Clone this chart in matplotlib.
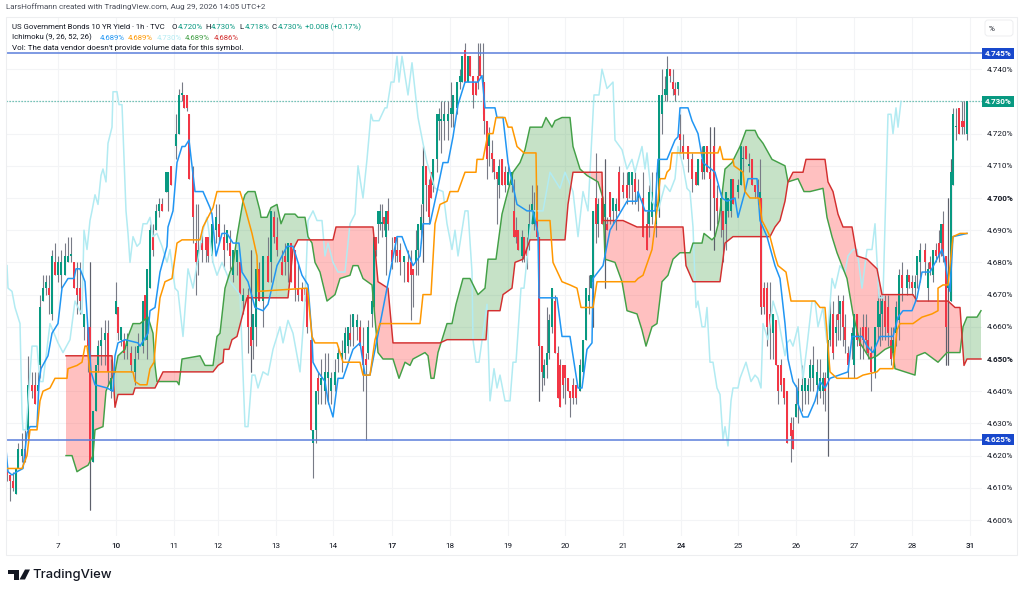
#!/usr/bin/env python3
"""US 10Y yield, 1h candles with Ichimoku, TradingView style."""
import numpy as np
import matplotlib
matplotlib.use("Agg")
import matplotlib.pyplot as plt
from matplotlib.patches import Rectangle, Polygon, FancyBboxPatch

W, H = 1024, 594
plt.rcParams['font.family'] = ['Roboto', 'DejaVu Sans']

# time axis is session position, tick list below gives the day labels
day_pos = [58, 116, 174, 218, 276, 333, 392, 450, 508, 565, 623, 681, 738, 796, 854, 912, 970]
day_labels = ['7', '10', '11', '12', '13', '14', '17', '18', '19', '20', '21', '24', '25', '26', '27', '28', '31']
bold_days = ['10', '17', '24', '31']
price_ticks = [4.60, 4.61, 4.62, 4.63, 4.64, 4.65, 4.66, 4.67, 4.68, 4.69, 4.70, 4.71, 4.72, 4.73, 4.74]

# all yields below in thousandths above 4%, so 622 is 4.622%
# candles: time, open, high, low, close
candles_wk1 = [(7,616,616,612,614),(10,614,614,606,612),(13,612,615,609,610),(16,608,616,608,616),(18,616,624,616,622),
 (22,620,627,618,622),(25,622,628,618,620),(28,628,651,624,642),(32,642,646,638,640),(35,642,646,636,636),
 (38,640,646,638,642),(40,648,670,644,666),(43,668,676,668,672),(46,672,676,670,674),(49,672,676,664,670),
 (52,664,684,662,682),(55,680,686,676,676),(58,676,682,674,680),(61,676,684,672,680),(65,676,686,676,682),
 (68,680,688,680,682),(71,682,688,680,682),(74,680,680,672,672),(77,672,680,664,670),(80,672,680,664,668),
 (84,660,664,656,664),(88,660,660,646,654),(90,660,680,603,618),(93,618,634,618,634),(96,634,648,634,648),
 (98,648,656,646,654),(101,654,660,648,656),(105,656,662,648,658),(108,658,662,642,646),(111,640,650,638,644),
 (116,664,674,664,668),(118,666,666,656,658),(121,656,660,654,660),(124,656,658,650,652),(127,654,658,650,656),
 (131,652,654,646,648),(135,646,654,642,650),(138,652,658,650,654),(143,654,668,652,668),(145,670,670,656,662),
 (147,656,678,650,678),(150,672,692,672,690),(153,688,692,682,684),(156,690,698,690,696),(159,696,700,694,698),
 (162,698,700,696,696),(166,702,708,702,708),(168,702,708,696,708),(171,710,710,704,704),(176,716,726,712,720),
 (179,720,734,720,732),(182,732,736,730,732),(184,732,732,728,728),(187,732,732,727,728),(189,726,726,706,706),
 (193,708,710,686,694)]
candles_wk2 = [(196,686,698,670,680),(198,680,698,676,684),(202,686,690,680,684),(206,688,688,680,684),(208,688,688,680,682),
 (212,682,692,680,692),(216,690,698,686,694),(219,692,698,686,688),(224,688,692,678,684),(227,686,690,684,690),
 (230,686,690,678,682),(233,676,684,674,684),(237,680,684,676,684),(240,680,680,670,670),(243,668,672,664,670),
 (248,670,672,652,660),(251,660,684,646,654),(253,656,664,650,664),(256,660,678,654,678),(259,678,680,668,668),
 (263,668,682,660,682),(268,682,688,674,674),(271,680,696,674,696),(274,694,696,686,688),(277,688,694,682,684),
 (282,680,684,676,676),(285,682,686,676,680),(288,680,686,674,686),(291,686,686,674,674),(295,684,684,668,672),
 (298,672,680,668,670),(302,672,674,668,668),(305,672,676,668,670),(307,672,672,658,660),(311,656,656,628,628),
 (313,624,628,613,628),(316,628,640,624,640),(318,644,646,636,640),(321,642,650,636,644),(325,640,652,636,646),
 (328,644,652,636,646),(331,640,646,636,644),(335,642,650,640,646)]
candles_wk3 = [(338,650,654,646,652),(342,650,656,646,652),(345,652,660,650,658),(348,654,660,652,660),(350,658,664,654,656),
 (353,660,664,654,664),(357,660,664,656,662),(360,660,662,654,654),(363,654,660,640,648),(366,650,652,625,648),
 (368,652,662,650,660),(372,664,672,660,668),(374,666,688,664,688),(376,688,688,682,684),(378,692,696,686,696),
 (380,692,698,690,696),(382,692,698,688,692),(384,694,694,690,692),(386,688,696,676,696),(388,696,700,690,692),
 (392,684,688,678,680),(395,688,688,680,686),(397,684,688,680,682),(400,684,686,676,680),(404,680,682,674,682),
 (408,680,684,674,674),(411,680,684,662,676),(413,678,678,666,676),(416,680,690,676,684),(418,684,692,676,692),
 (421,690,698,686,694),(423,698,716,680,710),(426,710,710,696,704),(429,704,706,692,694),(431,708,708,700,700),
 (433,704,712,702,712),(437,712,726,708,726),(439,724,728,718,726),(441,724,730,714,724),(444,724,730,718,726),
 (448,724,730,718,726),(451,726,736,722,728),(453,726,732,722,732),(457,728,736,726,736),(460,736,740,734,738),
 (462,736,744,736,744),(465,746,748,736,736),(468,736,744,736,744),(470,744,744,738,738),(473,738,738,728,732),
 (476,736,736,732,732),(478,738,748,734,736),(480,744,748,738,738),(483,736,748,726,736),(484,736,736,720,724),
 (487,724,724,706,712),(489,716,722,710,720),(492,714,718,708,712),(494,712,712,706,708),(497,708,708,692,706),
 (499,704,712,700,710),(502,712,712,704,704),(505,708,710,702,704),(508,704,710,704,708),(512,704,708,702,708)]
candles_wk4 = [(514,696,706,688,688),(516,690,694,686,688),(518,690,690,684,684),(522,682,690,680,688),(524,688,688,680,682),
 (527,684,688,678,682),(529,686,698,684,692),(532,692,704,692,698),(534,692,702,690,696),(537,696,704,688,688),
 (539,688,688,637,654),(542,654,654,640,646),(544,644,650,642,648),(547,648,666,644,652),(549,652,664,650,662),
 (552,660,672,658,672),(555,668,670,652,652),(558,652,654,638,638),(560,648,650,635,635),(563,648,648,638,642),
 (565,648,648,636,644),(568,644,644,640,640),(570,640,640,632,638),(573,642,644,636,638),(576,642,642,636,638),
 (580,640,650,640,648),(583,646,656,644,656),(586,656,672,656,672),(589,668,676,664,670),(591,672,676,672,676),
 (593,674,696,660,696),(596,700,714,686,692),(598,692,700,688,698),(602,700,704,692,692),(605,694,712,672,698),
 (607,692,694,690,690),(610,702,702,692,694),(613,696,700,692,700),(616,696,700,690,698),(619,708,710,696,696),
 (623,704,708,700,702),(627,704,708,698,700),(629,704,708,700,708),(632,704,708,698,708),(635,706,708,698,702),
 (638,700,706,696,702),(643,700,708,688,688),(647,692,696,684,684),(649,692,704,688,702),(652,694,708,692,702),
 (656,692,708,688,698),(659,696,732,694,732)]
candles_wk5 = [(662,726,740,720,732),(665,732,738,730,734),(667,732,744,730,740),(670,740,740,736,738),(673,736,740,732,734),
 (675,734,736,730,732),(678,734,736,732,736),(680,720,726,714,718),(683,716,720,712,714),(688,716,716,708,712),
 (692,712,714,702,706),(696,708,708,704,704),(698,704,712,704,712),(702,712,716,706,708),(704,708,716,706,716),
 (707,716,716,708,708),(710,708,722,690,706),(714,716,722,684,700),(717,700,704,692,696),(721,696,702,688,700),
 (723,696,696,680,690),(726,692,702,684,702),(728,696,700,694,700),(731,696,706,694,706),(733,706,706,698,698),
 (738,702,706,700,704),(741,704,716,704,716),(743,712,716,708,712),(746,716,716,712,712),(749,710,714,708,710),
 (752,712,712,704,704),(755,704,704,700,702),(758,704,706,698,700),(760,700,712,692,702),(761,700,700,664,666),
 (764,672,674,664,666),(767,672,674,654,660),(770,664,674,650,660),(773,658,664,650,664),(776,662,662,648,648),
 (778,648,648,636,640),(781,648,650,640,642),(784,644,644,636,638),(787,640,640,624,624),(791,630,632,618,626),
 (793,628,632,622,622),(796,632,642,632,636),(798,636,644,630,640),(802,640,648,634,642),(805,640,644,636,644),
 (808,640,644,636,642),(810,644,650,640,648),(813,644,654,640,648),(817,642,650,636,646),(820,640,650,638,644),
 (823,640,646,636,644),(825,644,646,634,640),(828,644,656,620,656),(830,656,668,654,664),(833,664,668,650,652)]
candles_wk6 = [(836,658,664,654,660),(838,664,670,656,662),(840,664,668,656,668),(843,668,670,654,660),(845,660,664,652,656),
 (848,652,654,644,648),(852,656,660,650,658),(854,648,664,644,664),(857,664,664,654,656),(860,656,660,650,654),
 (863,660,664,650,656),(866,660,664,652,656),(868,656,660,650,652),(871,652,654,640,646),(875,646,660,644,660),
 (878,660,672,656,668),(880,660,670,654,664),(882,664,670,656,668),(885,668,670,656,660),(888,666,670,654,658),
 (891,656,660,648,650),(893,652,660,650,656),(896,658,668,654,666),(899,662,678,656,676),(902,676,680,668,672),
 (907,672,678,670,676),(909,676,676,672,674),(912,674,676,670,672),(915,672,676,668,674),(917,676,682,672,682),
 (920,680,686,674,684),(925,684,686,676,680),(928,672,680,668,678),(930,680,682,676,678),(933,676,684,674,684),
 (936,684,686,680,682),(939,686,690,680,682),(941,686,692,682,692),(943,692,696,680,682),(946,682,682,648,660),
 (948,672,700,648,676),(951,668,712,668,708),(953,704,728,704,726),(956,722,728,718,722),(959,728,728,720,720),
 (962,724,730,720,722),(964,724,730,720,722),(967,720,730,718,730)]

conversion_line = [(6,622),(8,615),(12,614),(17,615),(23,616),(27,627),(30,629),(37,629),(39,643),(41,647),(48,651),(52,658),
 (58,661),(62,672),(68,675),(74,675),(76,678),(80,678),(85,674),(88,659),(91,646),(95,642),(107,641),(113,640),(115,651),
 (118,655),(125,656),(138,655),(140,654),(148,658),(150,665),(155,666),(160,677),(167,685),(168,691),(173,696),(177,711),
 (182,716),(185,716),(189,718),(195,702),(203,702),(210,697),(212,695),(216,682),(222,689),(227,689),(233,686),(239,686),
 (242,677),(248,674),(255,666),(263,665),(268,667),(277,679),(287,685),(293,685),(297,681),(302,676),(308,673),(312,657),
 (313,649),(318,646),(325,643),(328,637),(333,632),(338,644),(343,644),(353,653),(360,655),(365,645),(370,645),(377,656),
 (392,680),(397,688),(402,688),(408,683),(413,679),(420,682),(423,692),(430,692),(437,702),(443,711),(448,711),(453,719),
 (458,729),(465,736),(478,736),(482,738),(485,728),(495,728),(497,725),(503,725),(508,711),(517,698),(527,696),(533,696),
 (538,689),(539,669),(557,669),(562,657),(570,657),(578,641),(582,641),(587,653),(592,655),(593,675),(603,679),(610,690),
 (627,699),(637,699),(638,702),(645,696),(655,696),(658,712),(667,712),(675,718),(678,719),(680,728),(688,728),(692,724),
 (698,720),(703,711),(715,708),(722,700),(727,699),(735,700),(738,694),(745,702),(748,706),(757,706),(760,693),(767,688),
 (775,679),(780,675),(785,661),(788,650),(793,643),(797,641),(798,636),(803,632),(808,632),(815,637),(820,643),(825,641),
 (830,644),(848,646),(852,657),(862,657),(867,654),(873,652),(880,657),(893,657),(898,663),(903,665),(912,665),(917,669),
 (922,677),(930,677),(937,681),(942,684),(945,680),(950,671),(953,688),(967,689)]
base_line = [(7,616),(22,616),(27,620),(30,628),(37,628),(40,637),(43,640),(50,641),(55,644),(67,644),(68,647),(77,648),(82,649),
 (85,654),(87,654),(90,646),(133,646),(135,643),(140,642),(147,642),(150,647),(154,649),(157,660),(160,669),(165,674),(172,675),
 (177,686),(182,687),(200,687),(203,691),(208,694),(213,697),(217,702),(240,702),(245,697),(252,689),(257,682),(258,671),
 (307,672),(308,670),(312,657),(315,655),(337,655),(343,649),(360,649),(363,645),(370,645),(375,656),(380,661),(420,661),
 (423,670),(431,670),(435,692),(440,698),(447,699),(450,702),(458,702),(465,708),(476,708),(477,712),(483,712),(488,720),
 (493,720),(496,725),(505,725),(508,722),(512,722),(517,716),(524,714),(536,714),(537,693),(550,693),(553,680),(562,674),
 (570,673),(577,672),(581,666),(593,666),(597,674),(635,674),(638,675),(643,676),(652,684),(658,699),(660,706),(665,706),
 (667,708),(670,709),(672,714),(718,714),(720,716),(723,712),(733,712),(734,710),(743,708),(745,702),(750,700),(759,700),
 (762,693),(767,690),(770,688),(775,682),(778,679),(786,677),(791,668),(815,668),(820,666),(825,666),(830,646),(837,644),
 (857,644),(863,645),(877,646),(880,647),(893,647),(897,659),(900,661),(913,661),(922,663),(932,664),(938,665),(938,672),
 (943,673),(948,673),(953,688),(960,689),(967,689)]
lagging_span = [(7,679),(8,672),(12,671),(15,666),(20,661),(22,633),(23,628),(26,628),(32,654),(37,654),(40,643),(43,643),(50,661),
 (58,655),(63,652),(70,656),(75,668),(78,666),(82,664),(84,690),(87,684),(90,693),(92,696),(95,701),(98,698),(101,707),
 (103,709),(106,705),(108,717),(112,722),(113,733),(117,733),(119,729),(122,729),(126,696),(128,689),(130,680),(133,688),
 (137,685),(140,686),(143,692),(147,692),(150,694),(153,688),(157,689),(162,685),(167,680),(170,684),(175,672),(178,671),
 (183,657),(188,678),(193,672),(203,690),(207,694),(213,680),(217,676),(222,680),(230,674),(240,670),(245,629),(248,629),
 (252,645),(255,645),(258,641),(263,646),(268,645),(273,653),(280,660),(283,655),(288,662),(293,658),(300,646),(305,668),
 (308,693),(313,696),(317,693),(322,693),(325,682),(328,686),(333,680),(338,677),(345,677),(350,692),(355,695),(358,710),
 (363,700),(367,712),(371,726),(373,724),(379,724),(385,728),(387,728),(391,736),(394,736),(397,744),(399,736),(402,744),
 (408,732),(412,742),(418,725),(423,717),(427,711),(435,703),(443,702),(447,692),(452,684),(455,690),(458,682),(465,696),
 (468,696),(472,677),(473,656),(476,649),(479,649),(487,667),(490,637),(494,647),(497,641),(500,645),(505,637),(510,637),
 (513,649),(516,649),(521,672),(524,672),(527,681),(532,696),(543,696),(550,708),(560,703),(565,708),(573,702),(578,688),
 (583,702),(588,696),(594,732),(599,732),(602,740),(607,734),(613,736),(615,718),(622,715),(627,709),(632,712),(635,708),
 (642,716),(645,709),(647,714),(652,699),(658,696),(665,704),(670,702),(675,706),(678,716),(683,710),(687,703),(690,702),
 (693,691),(696,666),(698,668),(702,660),(705,660),(707,666),(710,649),(713,649),(717,641),(720,639),(723,625),(725,629),
 (728,623),(731,637),(733,641),(738,641),(740,644),(746,649),(751,643),(755,645),(758,644),(761,641),(763,661),(768,656),
 (773,668),(778,663),(782,656),(785,651),(787,655),(790,656),(793,654),(798,660),(803,644),(807,654),(812,668),(815,668),
 (818,660),(823,666),(827,655),(832,675),(835,672),(840,679),(845,677),(848,682),(853,684),(857,684),(862,672),(867,684),
 (872,684),(875,692),(879,669),(883,669),(887,715),(888,726),(891,726),(893,720),(896,728),(898,722),(901,730)]
lead_a = [(66,620),(72,620),(77,615),(82,616),(88,617),(93,620),(95,628),(103,629),(106,640),(110,643),(115,646),(118,651),(125,653),
 (128,657),(133,661),(140,661),(148,663),(153,658),(155,648),(157,643),(177,643),(179,642),(182,650),(200,651),(205,648),
 (213,648),(217,657),(220,658),(225,672),(230,677),(233,679),(237,688),(243,699),(245,701),(248,702),(255,702),(260,696),
 (261,694),(267,694),(271,697),(277,698),(281,692),(285,695),(295,695),(298,694),(305,694),(308,688),(312,686),(315,680),
 (320,677),(327,668),(335,670),(340,675),(350,676),(353,679),(358,679),(363,675),(372,673),(378,652),(383,650),(393,650),
 (399,644),(405,649),(410,648),(413,650),(425,652),(428,651),(431,644),(434,644),(438,652),(447,661),(452,661),(456,667),
 (463,675),(470,675),(478,670),(485,672),(488,681),(496,681),(502,695),(507,701),(513,708),(520,711),(525,715),(530,722),
 (542,722),(546,725),(552,722),(555,724),(562,725),(566,725),(570,725),(573,716),(580,709),(587,707),(598,705),(603,700),
 (605,681),(615,680),(622,674),(627,665),(637,664),(642,659),(646,654),(652,660),(657,661),(662,674),(668,676),(673,681),
 (680,683),(690,683),(693,686),(702,686),(704,689),(712,687),(715,688),(719,693),(725,709),(732,711),(740,716),(746,721),
 (755,721),(758,719),(763,717),(772,712),(785,710),(788,705),(798,706),(804,702),(810,702),(823,703),(827,694),(832,688),
 (837,683),(842,679),(847,675),(853,664),(860,655),(870,650),(877,651),(885,653),(892,654),(895,647),(915,645),(917,651),
 (925,652),(938,649),(947,652),(960,652),(963,660),(967,663),(977,663),(981,665)]
lead_b = [(66,651),(112,651),(115,635),(118,639),(133,639),(135,641),(155,641),(163,646),(213,646),(218,648),(223,649),(224,653),
 (229,653),(232,656),(237,657),(242,663),(247,669),(288,669),(293,684),(298,687),(333,687),(336,691),(373,691),(378,674),
 (388,672),(393,655),(440,655),(447,656),(486,656),(488,665),(500,665),(503,670),(512,672),(515,680),(523,681),(530,687),
 (565,687),(568,698),(573,708),(602,708),(603,693),(623,693),(630,692),(637,691),(683,691),(686,679),(693,674),(720,674),
 (723,681),(725,686),(733,688),(770,688),(775,691),(780,693),(785,699),(788,705),(793,708),(803,708),(806,712),(825,712),
 (828,705),(833,702),(838,695),(843,691),(852,691),(857,682),(867,681),(877,678),(882,670),(913,670),(917,668),(948,668),
 (955,666),(960,666),(964,648),(967,650),(981,650)]

# horizontal levels and last price
level_high, level_low, last_price = 4.745, 4.625, 4.730

UP, DOWN, WICK = '#089981', '#F23645', '#787B86'
BLUE, ORANGE, CYAN, GREEN, RED = '#2196F3', '#FF9800', '#B2EBF2', '#43A047', '#D32F2F'
LEVEL, TAG, EDGE = '#5B7EDB', '#1848CC', '#EDEEF0'
FONT = 5.9


def px_x(x):
    return x / W


def px_y(y):
    return 1 - y / H


def split_line(points):
    xs, ys = zip(*points)
    return np.array(xs, float), 4 + np.array(ys, float) / 1000


def fig_box(x0, y0, x1, y1, **kw):
    # box in reference pixels, y0 is the top edge
    fig.patches.append(Rectangle((px_x(x0), px_y(y1)), (x1 - x0) / W, (y1 - y0) / H,
                                 transform=fig.transFigure, **kw))


fig = plt.figure(figsize=(W / 100, H / 100), dpi=100, facecolor='white')
left, right, top, bottom = 6, 982, 17, 536
ax = fig.add_axes([px_x(left), px_y(bottom), (right - left) / W, (bottom - top) / H])
ax.set_xlim(left, right)
ax.set_ylim(4.7 - (bottom - 198) / 3220, 4.7 + (198 - top) / 3220)
ax.set_xticks(day_pos)
ax.set_xticklabels(day_labels, fontsize=FONT, color='#131722')
for lab in ax.get_xticklabels():
    if lab.get_text() in bold_days:
        lab.set_fontweight('medium')
ax.yaxis.tick_right()
ax.set_yticks(price_ticks)
# the 4.730 label sits under the last price tag
ax.set_yticklabels(['' if abs(p - last_price) < 1e-6 else f'{p:.3f}%' for p in price_ticks],
                   fontsize=FONT, color='#131722')
for lab, p in zip(ax.get_yticklabels(), price_ticks):
    if abs(p - 4.65) < 1e-6 or abs(p - 4.70) < 1e-6:
        lab.set_fontweight('bold')
ax.tick_params(axis='x', length=0, pad=5)
ax.tick_params(axis='y', length=0, pad=3.6)
ax.grid(True, color='#F3F4F6', lw=0.8)
ax.set_axisbelow(True)
for s in ax.spines.values():
    s.set_visible(False)

# cloud
ax_x, ax_y = split_line(lead_a)
bx_x, bx_y = split_line(lead_b)
grid_x = np.union1d(ax_x, bx_x)
a_on_grid = np.interp(grid_x, ax_x, ax_y)
b_on_grid = np.interp(grid_x, bx_x, bx_y)
ax.fill_between(grid_x, a_on_grid, b_on_grid, where=a_on_grid >= b_on_grid, interpolate=True,
                color=GREEN, alpha=0.3, lw=0, zorder=1)
ax.fill_between(grid_x, a_on_grid, b_on_grid, where=a_on_grid < b_on_grid, interpolate=True,
                color='#FF5252', alpha=0.36, lw=0, zorder=1)

# candles
rows = np.array(candles_wk1 + candles_wk2 + candles_wk3 + candles_wk4 + candles_wk5 + candles_wk6, float)
t = rows[:, 0]
o, hi, lo, c = [4 + rows[:, i] / 1000 for i in (1, 2, 3, 4)]
ax.vlines(t, lo, hi, color=WICK, lw=0.8, zorder=2)
long_wick = (hi - lo) > 0.03
ax.vlines(t[long_wick], lo[long_wick], hi[long_wick], color='#5D606B', lw=0.8, zorder=2)
colors = [UP if close >= opn else DOWN for opn, close in zip(o, c)]
ax.bar(t, np.maximum(np.abs(c - o), 0.0005), bottom=np.minimum(o, c), width=1.9, color=colors, lw=0, zorder=2.5)

# ichimoku lines
for pts, col, lw in [(lagging_span, CYAN, 1.1), (lead_a, GREEN, 1.05), (lead_b, RED, 1.05),
                     (conversion_line, BLUE, 1.1), (base_line, ORANGE, 1.1)]:
    xs, ys = split_line(pts)
    ax.plot(xs, ys, color=col, lw=lw, zorder=3, solid_joinstyle='round')

# levels
ax.axhline(level_high, color=LEVEL, lw=1.1, zorder=4)
ax.axhline(level_low, color=LEVEL, lw=1.1, zorder=4)
ax.axhline(last_price, color=UP, lw=0.9, ls=(0, (1, 1.4)), alpha=0.7, zorder=1.5)

# price tags
for val, col in [(level_high, TAG), (last_price, UP), (level_low, TAG)]:
    yy = 198 - (val - 4.7) * 3220
    fig_box(982, yy - 5.5, 1014, yy + 5.5, facecolor=col, edgecolor='none')
    fig.text(px_x(998), px_y(yy + 0.2), f'{val:.3f}%', color='white', fontsize=FONT, fontweight='bold',
             ha='center', va='center')

# outer frame and percent button
fig_box(6, 17, 1017, 555, facecolor='none', edgecolor=EDGE, lw=0.8)
fig.patches.append(FancyBboxPatch((px_x(985), px_y(36)), 28 / W, 16 / H, boxstyle='round,pad=0,rounding_size=0.003',
                                  transform=fig.transFigure, facecolor='white', edgecolor=EDGE, lw=0.7,
                                  mutation_aspect=W / H))
fig.text(px_x(992), px_y(29), '%', fontsize=FONT, color='#131722', ha='center', va='center')


def label(x, y, s, col='#131722', size=FONT, **kw):
    fig.text(px_x(x), px_y(y), s, color=col, fontsize=size, va='center', ha='left', **kw)


label(6, 7, 'LarsHoffmann created with TradingView.com, Aug 29, 2026 14:05 UTC+2', '#4A4E59', 5.8)
label(12, 27, 'US Government Bonds 10 YR Yield · 1h · TVC', size=5.55)
for x, head, val in [(172, 'O', '4.720%'), (205, 'H', '4.730%'), (239, 'L', '4.718%'), (272, 'C', '4.730%')]:
    label(x, 27, head, size=5.55)
    label(x + 5.5, 27, val, UP, size=5.55)
label(305, 27, '+0.008 (+0.17%)', UP, size=5.55)
label(12, 37.5, 'Ichimoku (9, 26, 52, 26)', size=5.55)
for x, s, col in [(100, '4.689%', BLUE), (128, '4.689%', ORANGE), (157, '4.730%', CYAN), (185, '4.689%', GREEN), (214, '4.686%', RED)]:
    label(x, 37.5, s, col, size=5.55)
label(12, 48, "Vol: The data vendor doesn't provide volume data for this symbol.", size=5.8)

# footer logo
fig.patches.append(Polygon([(px_x(a), px_y(b)) for a, b in [(7.5, 569.5), (19, 569.5), (19, 579.5), (13.5, 579.5), (13.5, 574), (7.5, 574)]],
                           closed=True, transform=fig.transFigure, facecolor='#131722', edgecolor='none'))
fig.patches.append(Polygon([(px_x(a), px_y(b)) for a, b in [(25, 569.5), (30, 569.5), (25, 579.5), (19.5, 579.5)]],
                           closed=True, transform=fig.transFigure, facecolor='#131722', edgecolor='none'))
fig.text(px_x(32), px_y(575), 'TradingView', color='#131722', fontsize=9.4, fontweight='medium',
         family=['Inter', 'DejaVu Sans'], va='center', ha='left')

fig.savefig('out.png', dpi=100)
